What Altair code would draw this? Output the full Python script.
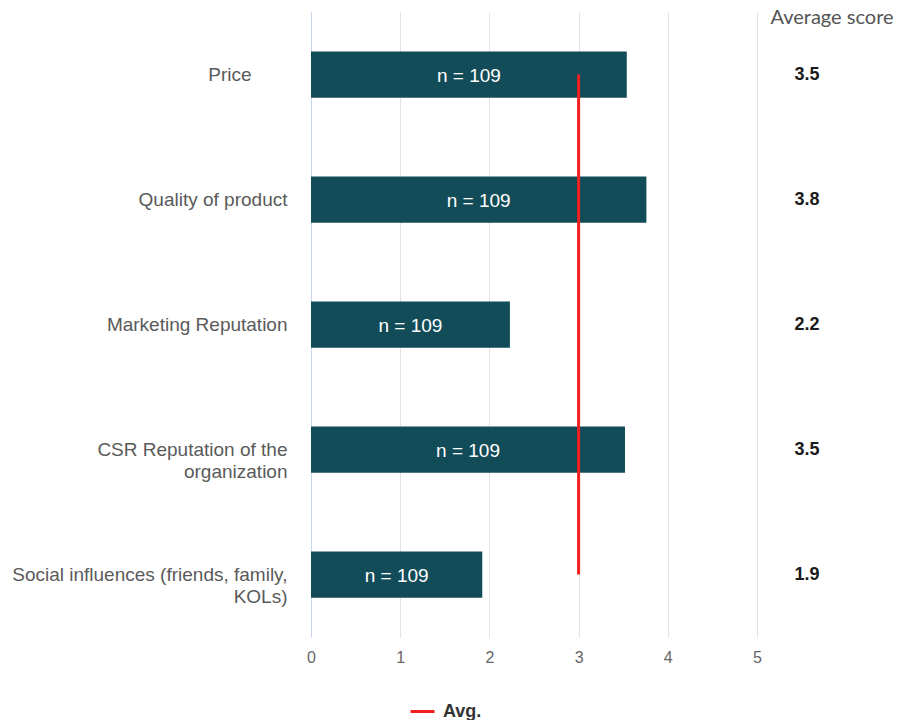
import altair as alt
import pandas as pd

categories = [
    "Price",
    "Quality of product",
    "Marketing Reputation",
    "CSR Reputation of the organization",
    "Social influences (friends, family, KOLs)",
]
scores = [3.54, 3.76, 2.23, 3.52, 1.92]
counts = [109, 109, 109, 109, 109]
avg_value = 3.0
avg_label = "Avg."
score_header = "Average score"

# how long labels wrap onto two lines
label_lines = {
    "CSR Reputation of the organization": ["CSR Reputation of the", "organization"],
    "Social influences (friends, family, KOLs)": ["Social influences (friends, family,", "KOLs)"],
}

df = pd.DataFrame({"factor": categories, "score": scores, "n": counts})
df["n_label"] = "n = " + df["n"].astype(str)
df["mid"] = df["score"] / 2

avg_df = pd.DataFrame({"avg": [avg_value], "start": [categories[0]], "end": [categories[-1]], "series": [avg_label]})
head_df = pd.DataFrame({"t": [score_header]})

W, H = 446, 625
FONT = "Liberation Sans"

expr_parts = []
for k, v in label_lines.items():
    arr = "[" + ", ".join("'%s'" % s for s in v) + "]"
    expr_parts.append("datum.label == '%s' ? %s" % (k, arr))
label_expr = " : ".join(expr_parts) + " : datum.label"

yscale = alt.Scale(domain=categories, paddingInner=0.63, paddingOuter=0.315)

y_axis = alt.Axis(
    title=None, labelExpr=label_expr, labelFontSize=19, labelColor="#5a5a5a",
    labelPadding={"condition": {"test": "datum.value === 'Price'", "value": 60}, "value": 24},
    labelLimit=330, ticks=False, domainColor="#c9d5ea",
    labelLineHeight=22, labelFont=FONT, grid=False,
)
x_axis = alt.Axis(
    title=None, values=[0, 1, 2, 3, 4, 5], format="d", grid=True, gridColor="#e2e2e2",
    ticks=False, domain=False, labelPadding=12, labelFontSize=16, labelFlush=False,
    labelColor="#666666", labelFont=FONT,
)
xscale = alt.Scale(domain=[0, 5], nice=False)

base = alt.Chart(df)

bars = base.mark_bar(color="#134c59").encode(
    x=alt.X("score:Q", scale=xscale, axis=x_axis),
    y=alt.Y("factor:N", sort=categories, scale=yscale, axis=y_axis),
)

bar_text = base.mark_text(color="white", fontSize=19, font=FONT, baseline="middle", dy=1).encode(
    x=alt.X("mid:Q", scale=xscale),
    y=alt.Y("factor:N", sort=categories, scale=yscale),
    text="n_label:N",
)

avg_rule = alt.Chart(avg_df).mark_rule(strokeWidth=3).encode(
    x=alt.X("avg:Q", scale=xscale),
    y=alt.Y("start:N", sort=categories, scale=yscale),
    y2="end:N",
    color=alt.Color(
        "series:N",
        scale=alt.Scale(domain=[avg_label], range=["#f02020"]),
        legend=alt.Legend(
            title=None, orient="none", legendX=98, legendY=686, symbolType="stroke",
            symbolStrokeWidth=3, symbolSize=576, labelFontSize=18, labelFontWeight="bold",
            labelColor="#333333", labelFont=FONT, labelOffset=7,
        ),
    ),
)

score_text = base.mark_text(fontSize=18, fontWeight="bold", font=FONT, color="#1a1a1a", baseline="middle").encode(
    x=alt.value(496),
    y=alt.Y("factor:N", sort=categories, scale=yscale),
    text=alt.Text("score:Q", format=".1f"),
)

header = alt.Chart(head_df).mark_text(fontSize=20, font="Lato", color="#555555", baseline="middle").encode(
    x=alt.value(521), y=alt.value(6), text="t:N"
)

chart = alt.layer(bars, avg_rule, bar_text, score_text, header).properties(
    width=W, height=H,
    autosize=alt.AutoSizeParams(type="none"),
    padding={"left": 311, "top": 12, "right": 141, "bottom": 83},
).configure_view(stroke=None)

chart.save("out.html", embed_options={"renderer": "svg", "actions": False})
